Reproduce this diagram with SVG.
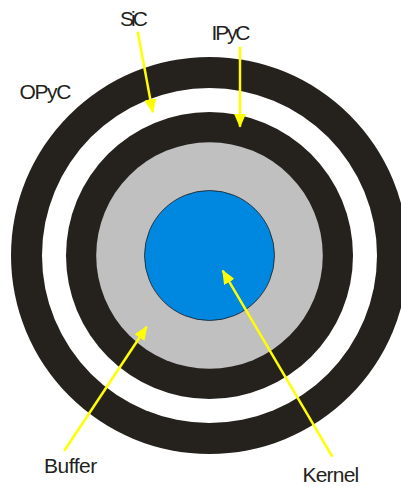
<svg xmlns="http://www.w3.org/2000/svg" width="401" height="487" viewBox="0 0 401 487">
<defs>
<style>
.lbl{font-family:"Liberation Sans",Arial,sans-serif;font-size:21px;fill:#231f20}
.arr{stroke:#ffff00;stroke-width:2.5;fill:none}
.ring{fill:#25221e}
</style>
<marker id="ah" viewBox="0 0 14 12" refX="13" refY="6" markerWidth="14" markerHeight="12" markerUnits="userSpaceOnUse" orient="auto">
<path d="M0,0 L14,6 L0,12 Z" fill="#ffff00"/>
</marker>
</defs>
<rect width="401" height="487" fill="#ffffff"/>
<g id="opyc"><circle class="ring" cx="209.5" cy="255.5" r="198.5"/></g>
<g id="sic"><circle cx="209.5" cy="255.5" r="167.5" fill="#ffffff"/></g>
<g id="ipyc"><circle class="ring" cx="209.5" cy="255.5" r="143.5"/></g>
<g id="buffer"><circle cx="209.5" cy="255.5" r="113.3" fill="#c0c0c0"/></g>
<g id="kernel"><circle cx="209.5" cy="255.5" r="65" fill="#0088e0" stroke="#1a1a1a" stroke-width="0.8"/></g>
<g id="connectors">
<line class="arr" x1="137.7" y1="31.7" x2="152.7" y2="112.3" marker-end="url(#ah)"/>
<line class="arr" x1="240" y1="46.7" x2="240" y2="126.7" marker-end="url(#ah)"/>
<line class="arr" x1="64.3" y1="450.7" x2="146.7" y2="326.7" marker-end="url(#ah)"/>
<line class="arr" x1="332.3" y1="456.7" x2="222.7" y2="270.7" marker-end="url(#ah)"/>
</g>
<g id="labels">
<text class="lbl" x="120" y="25.7" letter-spacing="-3">SiC</text>
<text class="lbl" x="211.5" y="40" letter-spacing="-2.2">IPyC</text>
<text class="lbl" x="19.5" y="99.3" letter-spacing="-1.4">OPyC</text>
<text class="lbl" x="44" y="473.3" letter-spacing="-0.5">Buffer</text>
<text class="lbl" x="302.5" y="482" letter-spacing="-0.8">Kernel</text>
</g>
</svg>
